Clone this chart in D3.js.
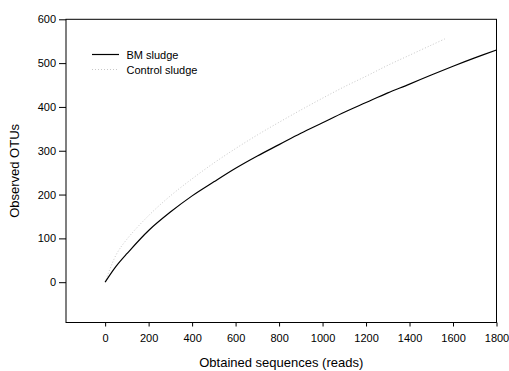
<!DOCTYPE html>
<html>
<head>
<meta charset="utf-8">
<script src="https://cdn.jsdelivr.net/npm/d3@7"></script>
<style>
  body { margin: 0; background: #fff; }
  svg text { font-family: "Liberation Sans", Arial, sans-serif; fill: #000; }
</style>
</head>
<body>
<div id="chart"></div>
<script>
// rarefaction curves, values
const bmReads = [0, 50, 100, 200, 300, 400, 500, 600, 700, 800, 900, 1000, 1100, 1200, 1300, 1400, 1500, 1600, 1700, 1800];
const bmOtus  = [0, 36, 65, 118, 160, 197, 229, 260, 288, 314, 340, 364, 388, 410, 432, 452, 473, 493, 512, 530];

const ctrlReads = [0, 50, 100, 200, 300, 400, 500, 600, 700, 800, 900, 1000, 1100, 1200, 1300, 1400, 1500, 1570];
const ctrlOtus  = [0, 62, 98, 152, 197, 236, 272, 305, 336, 365, 393, 420, 446, 470, 495, 518, 541, 557];

const xTicks = [0, 200, 400, 600, 800, 1000, 1200, 1400, 1600, 1800];
const yTicks = [0, 100, 200, 300, 400, 500, 600];

const width = 509, height = 371;
const mLeft = 66, mRight = 496.5, mTop = 19.3, mBottom = 322.5;

const svg = d3.select("#chart").append("svg")
  .attr("width", width)
  .attr("height", height);

const x = d3.scaleLinear().domain([-180, 1800]).range([mLeft, mRight]);
const y = d3.scaleLinear().domain([-92, 600]).range([mBottom, mTop]);

// x axis
const xAxis = svg.append("g")
  .attr("transform", `translate(0,${mBottom})`)
  .call(d3.axisBottom(x).tickValues(xTicks).tickFormat(d3.format("d"))
    .tickSize(4).tickPadding(8).tickSizeOuter(0));
xAxis.select(".domain").remove();
xAxis.selectAll("text").attr("font-size", 11);

// y axis
const yAxis = svg.append("g")
  .attr("transform", `translate(${mLeft},0)`)
  .call(d3.axisLeft(y).tickValues(yTicks).tickFormat(d3.format("d"))
    .tickSize(7).tickPadding(3).tickSizeOuter(0));
yAxis.select(".domain").remove();
yAxis.selectAll("text").attr("font-size", 11);

// frame
svg.append("rect")
  .attr("x", mLeft).attr("y", mTop)
  .attr("width", mRight - mLeft).attr("height", mBottom - mTop)
  .attr("fill", "none").attr("stroke", "#000").attr("stroke-width", 1);

const line = d3.line()
  .x(d => x(d[0]))
  .y(d => y(d[1]))
  .curve(d3.curveCatmullRom);

svg.append("path")
  .datum(d3.zip(ctrlReads, ctrlOtus))
  .attr("fill", "none")
  .attr("stroke", "#c8c8c8")
  .attr("stroke-width", 1)
  .attr("stroke-dasharray", "1,2")
  .attr("d", line);

svg.append("path")
  .datum(d3.zip(bmReads, bmOtus))
  .attr("fill", "none")
  .attr("stroke", "#000")
  .attr("stroke-width", 1.2)
  .attr("d", line);

// legend
const legend = svg.append("g");
legend.append("line")
  .attr("x1", 92).attr("x2", 119).attr("y1", 54.5).attr("y2", 54.5)
  .attr("stroke", "#000").attr("stroke-width", 1.2);
legend.append("line")
  .attr("x1", 92).attr("x2", 119).attr("y1", 69.5).attr("y2", 69.5)
  .attr("stroke", "#c8c8c8").attr("stroke-dasharray", "1,2");
legend.append("text").attr("x", 126.5).attr("y", 58.5).attr("font-size", 11).text("BM sludge");
legend.append("text").attr("x", 126.5).attr("y", 73.5).attr("font-size", 11).text("Control sludge");

// titles
svg.append("text")
  .attr("x", (mLeft + mRight) / 2).attr("y", 367)
  .attr("text-anchor", "middle").attr("font-size", 13)
  .text("Obtained sequences (reads)");

svg.append("text")
  .attr("transform", `translate(19,${(mTop + mBottom) / 2}) rotate(-90)`)
  .attr("text-anchor", "middle").attr("font-size", 13)
  .text("Observed OTUs");
</script>
</body>
</html>
